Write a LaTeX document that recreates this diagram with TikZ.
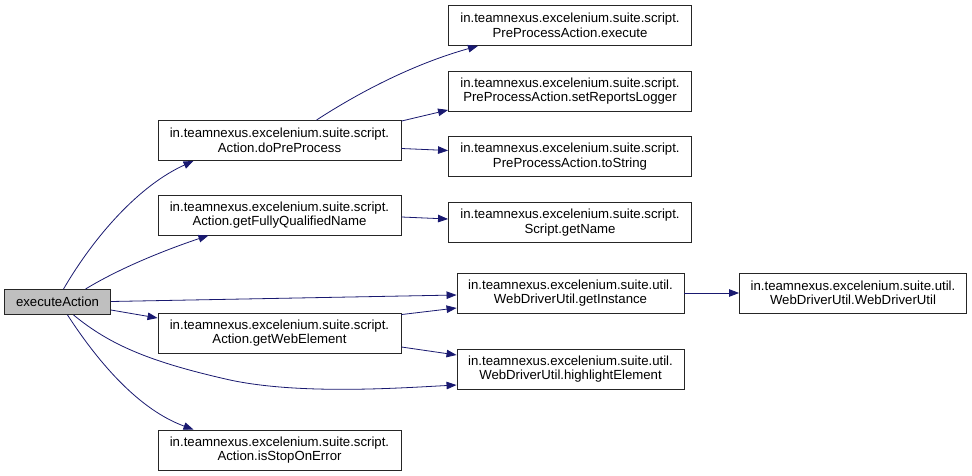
\documentclass[tikz,border=0pt]{standalone}
\usepackage{fontspec}
\setmainfont{Liberation Sans}
\usetikzlibrary{arrows.meta}
\definecolor{edge}{HTML}{191970}
\definecolor{grayfill}{HTML}{BFBFBF}
\begin{document}
\begin{tikzpicture}[x=1pt,y=-1pt,
  box/.style={draw=black!85,line width=0.9pt,fill=white,inner sep=0pt,align=center,
    font=\fontsize{13.2}{14.5}\selectfont},
  wbox/.style={box,minimum width=243pt,minimum height=40pt},
  ubox/.style={box,minimum width=227pt,minimum height=40pt},
  link/.style={draw=edge,line width=0.8pt,-{Triangle[length=10pt,width=7.5pt]}}]
\useasboundingbox (0,0) rectangle (972,476);
\fill[white] (0,0) rectangle (972,476);
% nodes
\node[box,fill=grayfill,minimum width=106pt,minimum height=25pt] (ea) at (57.5,302) {executeAction};
\node[wbox] (dpp) at (279.5,140.5) {in.teamnexus.excelenium.suite.script.\\Action.doPreProcess};
\node[wbox] (fqn) at (279.5,215) {in.teamnexus.excelenium.suite.script.\\Action.getFullyQualifiedName};
\node[wbox] (gwe) at (279.5,333) {in.teamnexus.excelenium.suite.script.\\Action.getWebElement};
\node[wbox] (iso) at (279.5,450) {in.teamnexus.excelenium.suite.script.\\Action.isStopOnError};
\node[wbox] (exe) at (570,25.5) {in.teamnexus.excelenium.suite.script.\\PreProcessAction.execute};
\node[wbox] (srl) at (570,91) {in.teamnexus.excelenium.suite.script.\\PreProcessAction.setReportsLogger};
\node[wbox] (tos) at (570,156.5) {in.teamnexus.excelenium.suite.script.\\PreProcessAction.toString};
\node[wbox] (gnm) at (570,222.5) {in.teamnexus.excelenium.suite.script.\\Script.getName};
\node[ubox] (gin) at (570.5,293) {in.teamnexus.excelenium.suite.util.\\WebDriverUtil.getInstance};
\node[ubox] (hle) at (570.5,369) {in.teamnexus.excelenium.suite.util.\\WebDriverUtil.highlightElement};
\node[ubox] (wdu) at (853,293) {in.teamnexus.excelenium.suite.util.\\WebDriverUtil.WebDriverUtil};
% edges
\draw[link] ([xshift=6pt]ea.north) .. controls (95,235) and (140,185) .. ([xshift=-86pt]dpp.south);
\draw[link] ([xshift=28pt]ea.north) .. controls (120,268) and (165,250) .. ([xshift=-71pt]fqn.south);
\draw[link] ([yshift=0.5pt]ea.east) -- ([yshift=-2pt]gin.west);
\draw[link] ([yshift=-8pt]ea.east) -- ([yshift=15pt]gwe.west);
\draw[link] ([xshift=16pt]ea.south) .. controls (110,345) and (150,362) .. (230,380) .. controls (300,395) and (400,388) .. ([yshift=-16pt]hle.west);
\draw[link] ([xshift=10pt]ea.south) .. controls (100,365) and (140,410) .. ([xshift=-86pt]iso.north);
\draw[link] ([xshift=37pt]dpp.north) .. controls (355,95) and (410,65) .. ([xshift=-92pt]exe.south);
\draw[link] ([yshift=-1pt]dpp.north east) -- ([yshift=-19pt]srl.west);
\draw[link] ([yshift=-8pt]dpp.east) -- ([yshift=6pt]tos.west);
\draw[link] ([yshift=-2pt]fqn.east) -- ([yshift=3.5pt]gnm.west);
\draw[link] ([yshift=-2pt]gwe.north east) -- ([yshift=-15pt]gin.west);
\draw[link] ([yshift=-14pt]gwe.east) -- ([yshift=14pt]hle.west);
\draw[link] (gin.east) -- (wdu.west);
\end{tikzpicture}
\end{document}
